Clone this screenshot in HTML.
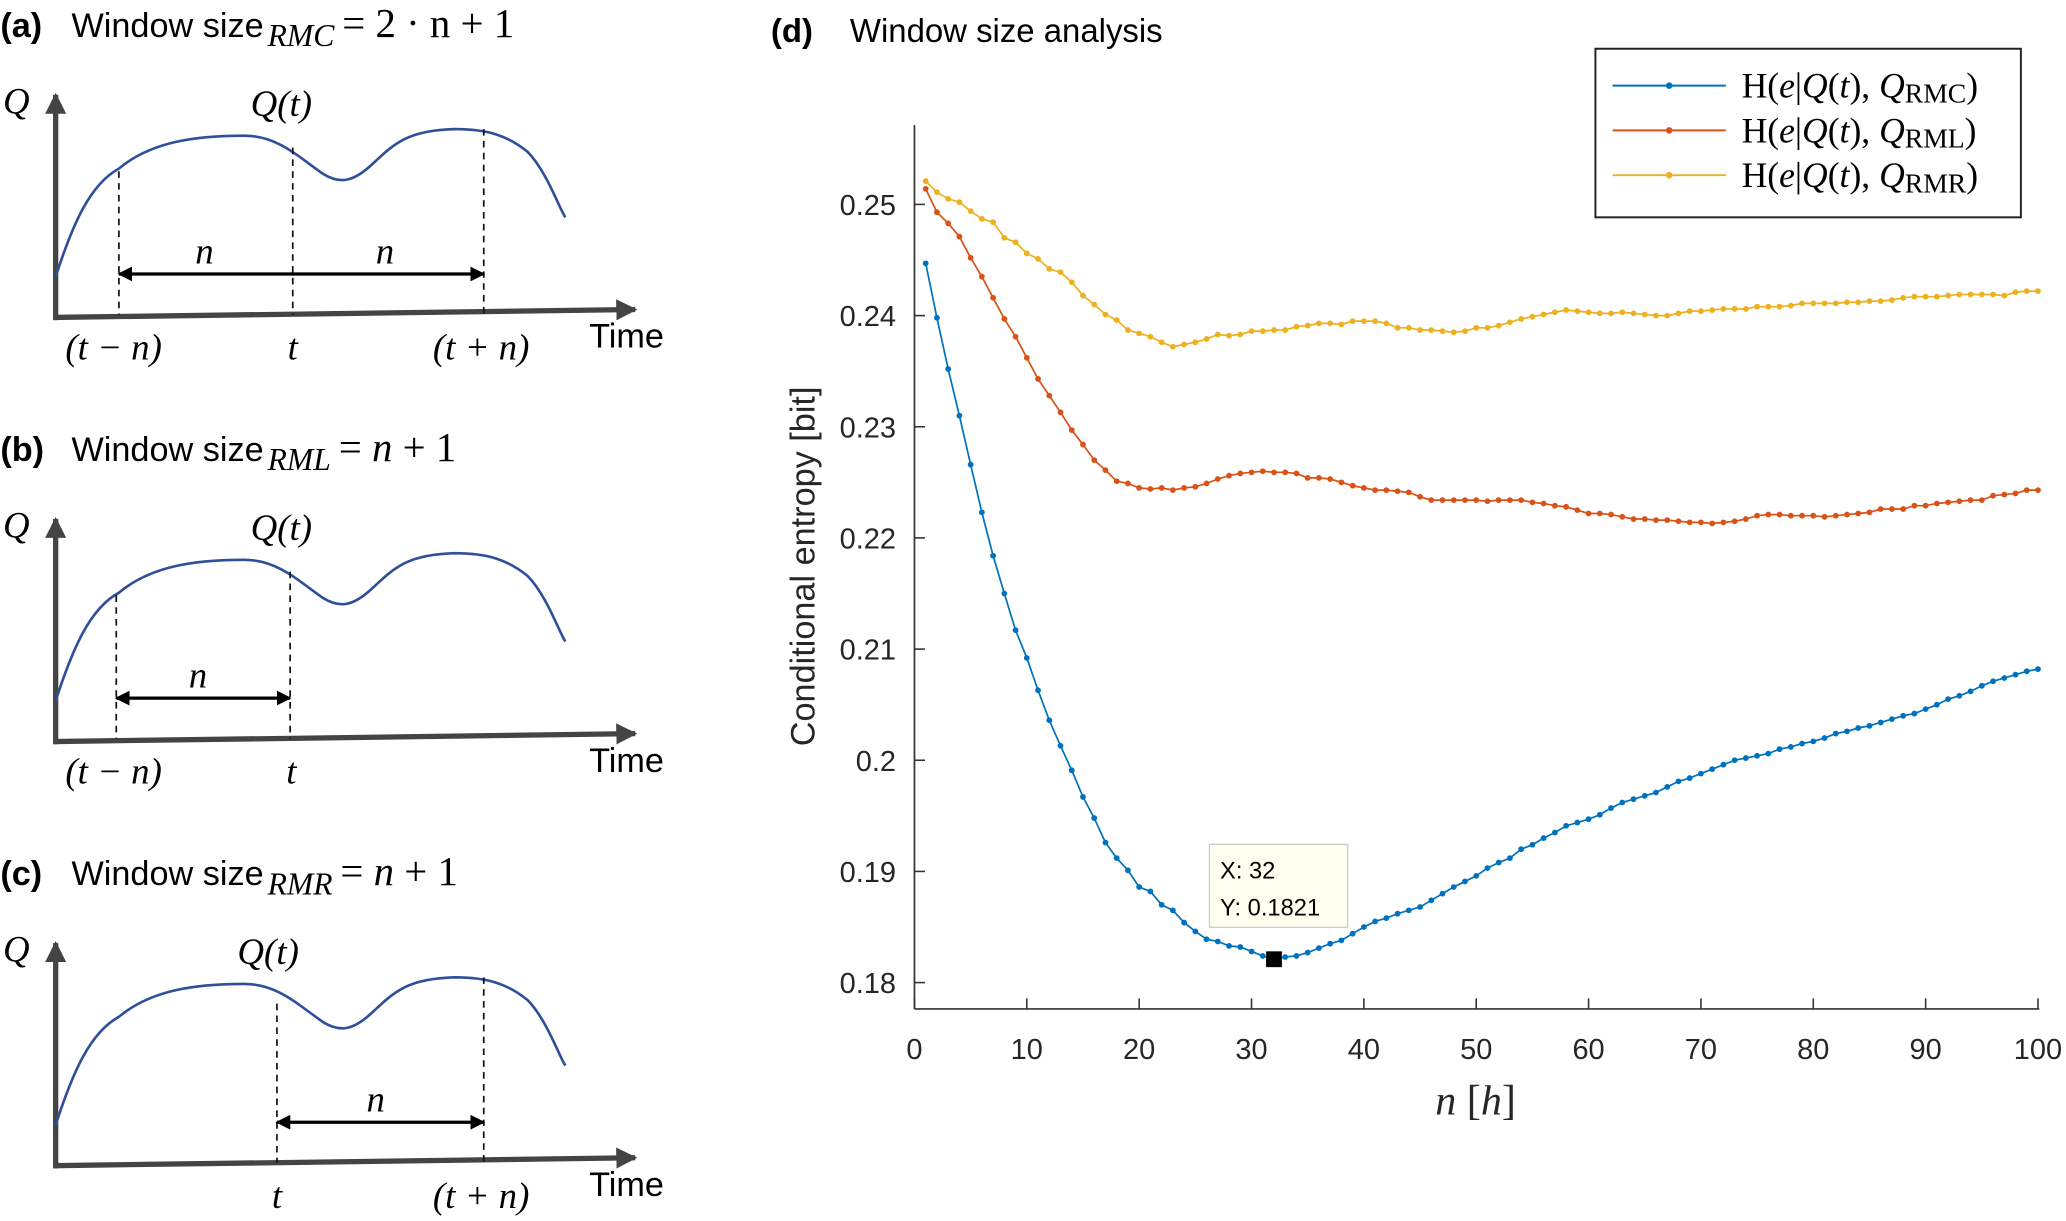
<!DOCTYPE html>
<html><head><meta charset="utf-8"><style>
html,body{margin:0;padding:0;background:#fff;}
svg{display:block;}
.t{font-family:"Liberation Sans",sans-serif;}
.m{font-family:"Liberation Serif",serif;font-style:italic;}
.r{font-family:"Liberation Serif",serif;}
</style></head><body>
<svg id="fig" width="2066" height="1221" viewBox="0 0 1568 927" xmlns="http://www.w3.org/2000/svg">
<defs>
<marker id="ah" viewBox="0 0 10 10" refX="9" refY="5" markerWidth="4" markerHeight="4" orient="auto-start-reverse"><path d="M0,0L10,5L0,10z" fill="#444"/></marker>
<marker id="bh" viewBox="0 0 10 10" refX="9" refY="5" markerWidth="4.5" markerHeight="4.5" orient="auto-start-reverse"><path d="M0,0L10,5L0,10z" fill="#000"/></marker>
</defs>
<g id="left"></g>
<g id="chart"></g>
</svg>
<script>
const nVals = Array.from({length:100},(_,i)=>i+1);
const rmc = [0.2447,0.2398,0.2352,0.2310,0.2266,0.2223,0.2184,0.2150,0.2117,0.2092,0.2063,0.2036,0.2013,0.1991,0.1967,0.1948,0.1926,0.1912,0.1901,0.1886,0.1882,0.1870,0.1865,0.1854,0.1846,0.1839,0.1837,0.1833,0.1832,0.1828,0.1824,0.1821,0.1823,0.1824,0.1827,0.1831,0.1835,0.1838,0.1844,0.1850,0.1855,0.1858,0.1862,0.1865,0.1868,0.1874,0.1880,0.1886,0.1891,0.1896,0.1903,0.1908,0.1912,0.1920,0.1924,0.1930,0.1935,0.1941,0.1944,0.1947,0.1951,0.1957,0.1962,0.1965,0.1968,0.1971,0.1976,0.1981,0.1984,0.1988,0.1992,0.1996,0.2000,0.2002,0.2004,0.2006,0.2010,0.2012,0.2015,0.2017,0.2020,0.2024,0.2026,0.2029,0.2031,0.2034,0.2037,0.2040,0.2042,0.2046,0.2050,0.2055,0.2058,0.2062,0.2067,0.2071,0.2074,0.2077,0.2080,0.2082];
const rml = [0.2514,0.2493,0.2483,0.2471,0.2452,0.2435,0.2416,0.2397,0.2381,0.2362,0.2343,0.2328,0.2313,0.2297,0.2284,0.2270,0.2261,0.2251,0.2249,0.2245,0.2244,0.2245,0.2243,0.2245,0.2246,0.2249,0.2253,0.2256,0.2258,0.2259,0.2260,0.2259,0.2259,0.2258,0.2254,0.2254,0.2253,0.2250,0.2247,0.2245,0.2243,0.2243,0.2242,0.2241,0.2237,0.2234,0.2234,0.2234,0.2234,0.2234,0.2233,0.2234,0.2234,0.2234,0.2232,0.2231,0.2229,0.2228,0.2225,0.2222,0.2222,0.2221,0.2219,0.2217,0.2217,0.2216,0.2216,0.2215,0.2214,0.2214,0.2213,0.2214,0.2215,0.2217,0.2220,0.2221,0.2221,0.2220,0.2220,0.2220,0.2219,0.2220,0.2221,0.2222,0.2223,0.2226,0.2226,0.2226,0.2229,0.2229,0.2231,0.2232,0.2233,0.2234,0.2234,0.2238,0.2239,0.2240,0.2243,0.2243];
const rmr = [0.2521,0.2511,0.2505,0.2502,0.2494,0.2487,0.2484,0.2470,0.2466,0.2456,0.2451,0.2442,0.2439,0.2430,0.2418,0.2410,0.2401,0.2396,0.2387,0.2384,0.2381,0.2376,0.2372,0.2374,0.2376,0.2379,0.2383,0.2382,0.2383,0.2386,0.2386,0.2387,0.2387,0.2390,0.2391,0.2393,0.2393,0.2392,0.2395,0.2395,0.2395,0.2393,0.2389,0.2389,0.2387,0.2387,0.2386,0.2385,0.2386,0.2389,0.2389,0.2391,0.2394,0.2397,0.2399,0.2401,0.2403,0.2405,0.2404,0.2403,0.2402,0.2402,0.2403,0.2402,0.2401,0.2400,0.2400,0.2402,0.2404,0.2404,0.2405,0.2406,0.2406,0.2406,0.2408,0.2408,0.2408,0.2409,0.2411,0.2411,0.2411,0.2411,0.2412,0.2412,0.2413,0.2413,0.2414,0.2416,0.2417,0.2417,0.2417,0.2418,0.2419,0.2419,0.2419,0.2419,0.2418,0.2421,0.2422,0.2422];
const xTicks = [0,10,20,30,40,50,60,70,80,90,100];
const yTicks = [0.18,0.19,0.2,0.21,0.22,0.23,0.24,0.25];
const yTickLabels = ["0.18","0.19","0.2","0.21","0.22","0.23","0.24","0.25"];
const tipX = 32, tipY = 0.1821;

const NS="http://www.w3.org/2000/svg";
function mk(tag,attrs,parent,text){const e=document.createElementNS(NS,tag);for(const k in attrs)e.setAttribute(k,attrs[k]);if(text!==undefined)e.textContent=text;parent.appendChild(e);return e;}
const X = n => 694 + n*8.53;
const Y = v => 746 - (v-0.18)/0.01*84.4;

const chart=document.getElementById('chart');
let e;
e=mk('text',{x:585,y:32,'font-size':25,'font-weight':'bold',class:'t'},chart,'(d)');

e=mk('text',{x:645,y:32,'font-size':25,class:'t'},chart,'Window size analysis');

e=mk('line',{x1:694,y1:95,x2:694,y2:766,stroke:'#333','stroke-width':1.3},chart);

e=mk('line',{x1:694,y1:766,x2:1548,y2:766,stroke:'#333','stroke-width':1.3},chart);

xTicks.forEach(t=>{
  const l=mk('line',{x1:X(t),y1:766,x2:X(t),y2:758,stroke:'#333','stroke-width':1.2},chart);
  
  const tx=mk('text',{x:X(t),y:804,'font-size':22,'text-anchor':'middle',fill:'#262626',class:'t'},chart,String(t));
  
});
yTicks.forEach((t,i)=>{
  const l=mk('line',{x1:694,y1:Y(t),x2:702,y2:Y(t),stroke:'#333','stroke-width':1.2},chart);
  
  const tx=mk('text',{x:680,y:Y(t)+8,'font-size':22,'text-anchor':'end',fill:'#262626',class:'t'},chart,yTickLabels[i]);
  
});
e=mk('text',{x:0,y:0,'font-size':26,'text-anchor':'middle',fill:'#262626',class:'t',transform:'translate(618,430) rotate(-90)'},chart,'Conditional entropy [bit]');

e=mk('text',{x:1120,y:846,'font-size':32,'text-anchor':'middle',fill:'#262626',class:'r'},chart);

mk('tspan',{class:'m'},e,'n');mk('tspan',{},e,' [');mk('tspan',{class:'m'},e,'h');mk('tspan',{},e,']');

const series=[[rmc,'#0072BD','rmc'],[rml,'#D95319','rml'],[rmr,'#EDB120','rmr']];
series.slice().reverse().forEach(([vals,col,nm])=>{
  const g=mk('g',{},chart);
  
  const d=vals.map((v,i)=>(i?'L':'M')+X(nVals[i]).toFixed(2)+','+Y(v).toFixed(2)).join('');
  const p=mk('path',{d:d,fill:'none',stroke:col,'stroke-width':1.3},g);
  
  vals.forEach((v,i)=>{
    const c=mk('circle',{cx:X(nVals[i]),cy:Y(v),r:2.2,fill:col},g);
    
  });
});
e=mk('rect',{x:X(tipX)-6,y:Y(tipY)-6,width:12,height:12,fill:'#000'},chart);

const tg=mk('g',{},chart);

mk('rect',{x:918,y:641,width:105,height:63,fill:'#FFFFF0',stroke:'#ccc','stroke-width':1},tg);
mk('text',{x:926,y:667,'font-size':18,class:'t'},tg,'X: '+tipX);
mk('text',{x:926,y:695,'font-size':18,class:'t'},tg,'Y: '+tipY);

const lg=mk('g',{},chart);

mk('rect',{x:1211,y:37,width:323,height:128,fill:'#fff',stroke:'#222','stroke-width':1.5},lg);
const subs=['RMC','RML','RMR'];
series.forEach(([v,col,nm],i)=>{
  const yy=65+i*34;
  const le=mk('g',{},lg);
  
  mk('line',{x1:1224,y1:yy,x2:1310,y2:yy,stroke:col,'stroke-width':1.5},le);
  mk('circle',{cx:1267,cy:yy,r:2.5,fill:col},le);
  const t=mk('text',{x:1322,y:yy+9,'font-size':27,class:'r'},le);
  mk('tspan',{},t,'H(');mk('tspan',{class:'m'},t,'e');mk('tspan',{},t,'|');mk('tspan',{class:'m'},t,'Q');
  mk('tspan',{},t,'(');mk('tspan',{class:'m'},t,'t');mk('tspan',{},t,'), ');mk('tspan',{class:'m'},t,'Q');
  mk('tspan',{'font-size':21,dy:4},t,subs[i]);mk('tspan',{dy:-4},t,')');
});

const left=document.getElementById('left');
function panel(off,label,sub,rhs,dash,arrowFrom,arrowTo,nLabels,tickLabels,qtX,xEndY){
  const g=mk('g',{},left);
  
  mk('text',{x:0,y:off+28,'font-size':26,'font-weight':'bold',class:'t'},g,label);
  const tt=mk('text',{x:54,y:off+28,'font-size':26,class:'t'},g,'Window size');
  mk('tspan',{class:'m','font-size':24,dy:7,dx:3},tt,sub);
  mk('tspan',{class:'r','font-size':31,dy:-7,dx:6},tt,rhs[0]);
  if(rhs[1]){mk('tspan',{class:'m','font-size':31},tt,rhs[1]);mk('tspan',{class:'r','font-size':31},tt,rhs[2]);}
  mk('text',{x:2,y:off+86,'font-size':28,class:'m'},g,'Q');
  mk('text',{x:qtX,y:off+88,'font-size':28,class:'m'},g,'Q(t)');
  mk('line',{x1:42,y1:off+243,x2:42,y2:off+72,stroke:'#444','stroke-width':4,'marker-end':'url(#ah)'},g);
  mk('line',{x1:40,y1:off+241,x2:482,y2:off+xEndY,stroke:'#444','stroke-width':4,'marker-end':'url(#ah)'},g);
  const c=`M42,${off+210} C55,${off+170} 68,${off+140} 90,${off+128} C115,${off+107} 150,${off+103} 185,${off+103} C210,${off+103} 225,${off+118} 245,${off+132} C258,${off+140} 268,${off+138} 282,${off+125} C300,${off+108} 310,${off+99} 345,${off+98} C370,${off+98} 385,${off+103} 400,${off+115} C415,${off+130} 425,${off+160} 429,${off+165}`;
  mk('path',{d:c,fill:'none',stroke:'#2F4F9A','stroke-width':2},g);
  dash.forEach(([x,y0])=>mk('line',{x1:x,y1:off+y0,x2:x,y2:off+239,stroke:'#111','stroke-width':1.3,'stroke-dasharray':'5,4'},g));
  mk('line',{x1:arrowFrom,y1:off+208,x2:arrowTo,y2:off+208,stroke:'#000','stroke-width':2.5,'marker-start':'url(#bh)','marker-end':'url(#bh)'},g);
  nLabels.forEach(x=>mk('text',{x:x,y:off+200,'font-size':28,'text-anchor':'middle',class:'m'},g,'n'));
  tickLabels.forEach(([x,s])=>mk('text',{x:x,y:off+273,'font-size':28,'text-anchor':'middle',class:'m'},g,s));
  mk('text',{x:447,y:off+264,'font-size':26,class:'t'},g,'Time');
}
panel(0,'(a)','RMC',['= 2 · n + 1'],[[90,130],[222,112],[367,98]],90,367,[155,292],[[86,'(t − n)'],[222,'t'],[365,'(t + n)']],190,235);
panel(322,'(b)','RML',['= ','n',' + 1'],[[88,130],[220,112]],88,220,[150],[[86,'(t − n)'],[221,'t']],190,235);
panel(644,'(c)','RMR',['= ','n',' + 1'],[[210,118],[367,98]],210,367,[285],[[210,'t'],[365,'(t + n)']],180,235);
</script>
</body></html>
